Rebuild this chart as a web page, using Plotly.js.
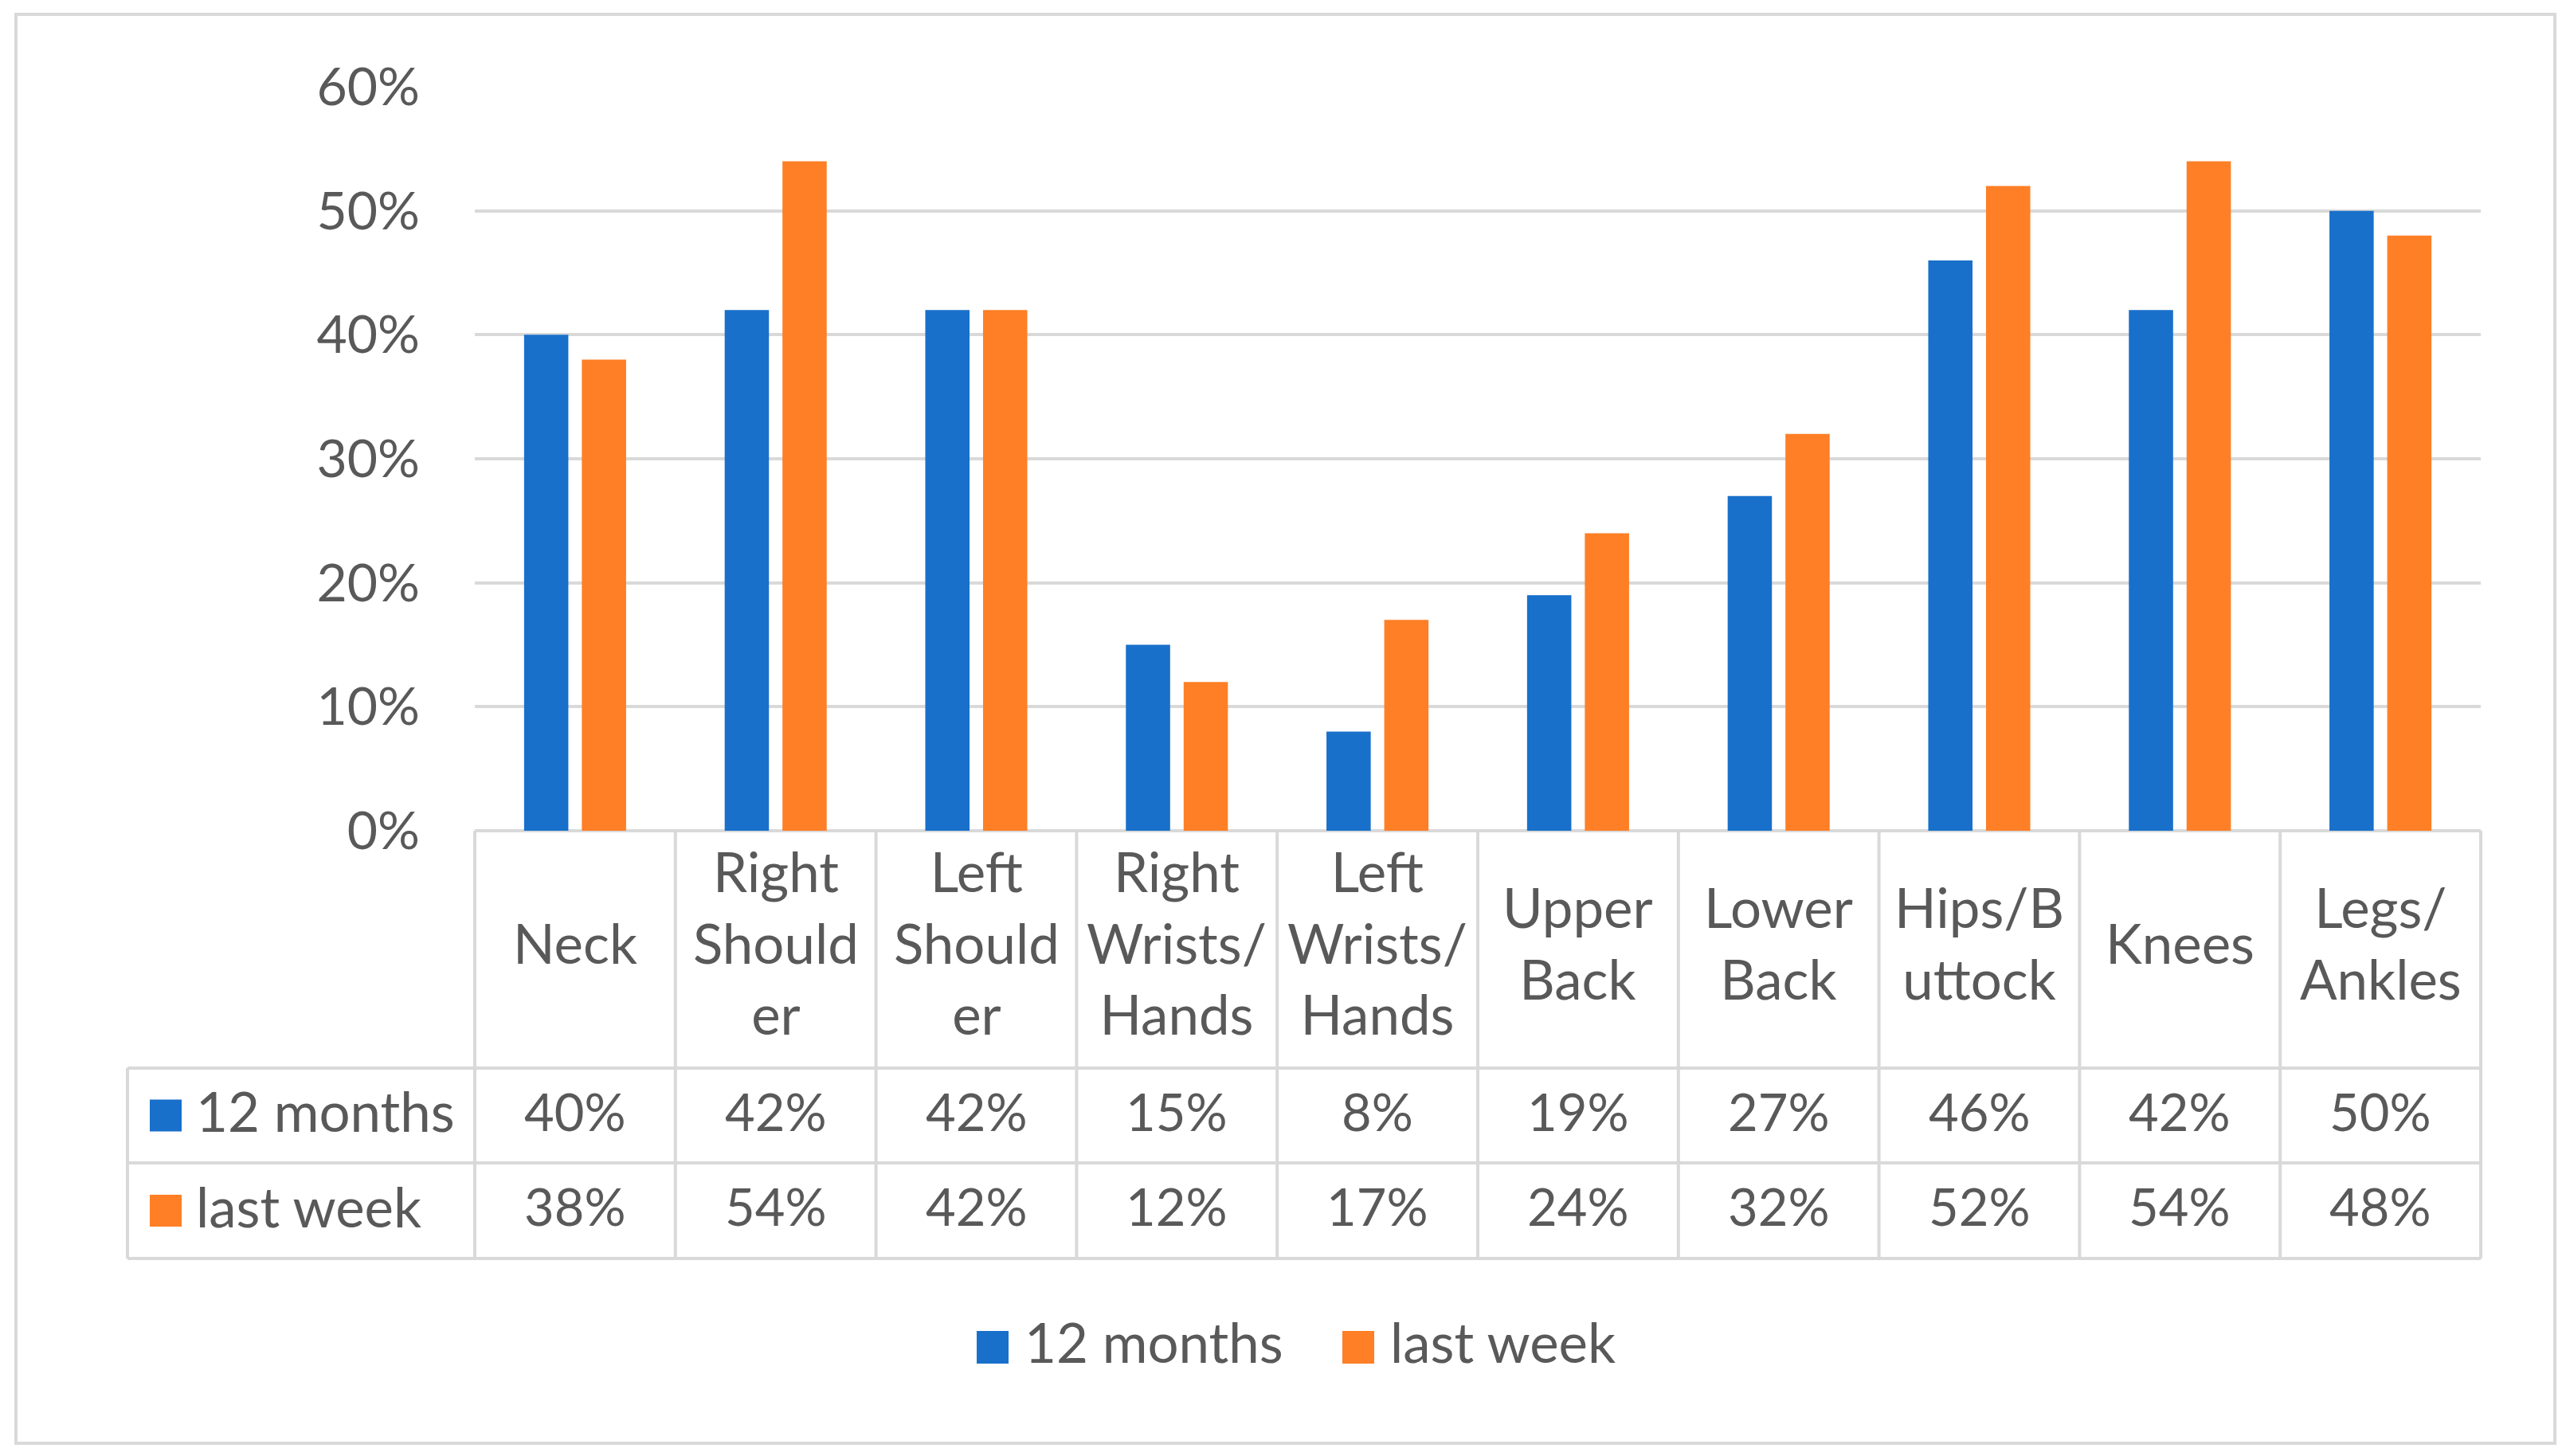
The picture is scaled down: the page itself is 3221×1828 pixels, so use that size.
<!DOCTYPE html>
<html>
<head>
<meta charset="utf-8">
<script src="https://cdn.plot.ly/plotly-3.0.1.min.js"></script>
<style>
html,body{margin:0;padding:0;background:#fff;}
#chart{width:3221px;height:1828px;}
</style>
</head>
<body>
<div id="chart"></div>
<script>
// ---- data ----
var categories = ["Neck","Right Shoulder","Left Shoulder","Right Wrists/Hands","Left Wrists/Hands","Upper Back","Lower Back","Hips/Buttock","Knees","Legs/Ankles"];
var categoryLabels = ["Neck","Right<br>Should<br>er","Left<br>Should<br>er","Right<br>Wrists/<br>Hands","Left<br>Wrists/<br>Hands","Upper<br>Back","Lower<br>Back","Hips/B<br>uttock","Knees","Legs/<br>Ankles"];
var seriesNames = ["12 months","last week"];
var months12 = [40,42,42,15,8,19,27,46,42,50];
var lastWeek = [38,54,42,12,17,24,32,52,54,48];
var yTicks = [0,10,20,30,40,50,60];

// ---- style ----
var W = 3221, H = 1828;
var L = 596, R = 3114, T = 109, B = 1043;
var colors = ["#1870CA","#FE7F26"];
var textColor = "#595959";
var lineColor = "#D9D9D9";
var FONT = "Lato, 'Open Sans', sans-serif";
var FS = 65;     // numbers
var FSW = 69;    // words

function X(px){ return (px - L) / (R - L); }
function Y(py){ return (B - py) / (B - T); }

var seriesData = [months12, lastWeek];
var traces = seriesData.map(function(vals, i){
  return {
    type: "bar", x: categories, y: vals, name: seriesNames[i],
    marker: {color: colors[i]}, showlegend: false, hoverinfo: "x+y+name"
  };
});

var shapes = [];
var annotations = [];
var n = categories.length;
var colW = (R - L) / n;
var rowTop = B, row0 = 1341, row1 = 1460, row2 = 1580, tableLeft = 160;
function hline(x0, x1, y){ shapes.push({type:"line", xref:"paper", yref:"paper", x0:X(x0), x1:X(x1), y0:Y(y), y1:Y(y), line:{color:lineColor, width:4}, layer:"below"}); }
function vline(x, y0, y1){ shapes.push({type:"line", xref:"paper", yref:"paper", x0:X(x), x1:X(x), y0:Y(y0), y1:Y(y1), line:{color:lineColor, width:4}, layer:"below"}); }

// outer frame
shapes.push({type:"rect", xref:"paper", yref:"paper", x0:X(20), x1:X(3207), y0:Y(18), y1:Y(1812), line:{color:lineColor, width:4}, fillcolor:"rgba(0,0,0,0)", layer:"below"});

// table grid
hline(L, R, rowTop);
hline(tableLeft, R, row0);
hline(tableLeft, R, row1);
hline(tableLeft, R, row2);
for (var k = 0; k <= n; k++) vline(L + k * colW, rowTop, row2);
vline(tableLeft, row0, row2);

// category labels
for (var c = 0; c < n; c++) {
  annotations.push({xref:"x", yref:"paper", x:categories[c], y:Y((rowTop + row0) / 2 - 9), text:categoryLabels[c], showarrow:false, xanchor:"center", yanchor:"middle", align:"center", font:{family:FONT, size:FSW, color:textColor}});
}
// value rows
var rowMids = [(row0 + row1) / 2, (row1 + row2) / 2];
seriesData.forEach(function(vals, s){
  for (var c = 0; c < n; c++) {
    annotations.push({xref:"x", yref:"paper", x:categories[c], y:Y(rowMids[s] - 6), text:vals[c] + "%", showarrow:false, xanchor:"center", yanchor:"middle", font:{family:FONT, size:FS, color:textColor}});
  }
  // row label
  shapes.push({type:"rect", xref:"paper", yref:"paper", x0:X(188), x1:X(228), y0:Y(rowMids[s] - 20), y1:Y(rowMids[s] + 20), fillcolor:colors[s], line:{width:0}});
  annotations.push({xref:"paper", yref:"paper", x:X(244), y:Y(rowMids[s] - 6), text:seriesNames[s], showarrow:false, xanchor:"left", yanchor:"middle", font:{family:FONT, size:FSW, color:textColor}});
});

// legend
var legX = [1226, 1685];
legX.forEach(function(lx, s){
  shapes.push({type:"rect", xref:"paper", yref:"paper", x0:X(lx), x1:X(lx + 40), y0:Y(1671), y1:Y(1712), fillcolor:colors[s], line:{width:0}});
  annotations.push({xref:"paper", yref:"paper", x:X(lx + 58), y:Y(1684), text:seriesNames[s], showarrow:false, xanchor:"left", yanchor:"middle", font:{family:FONT, size:FSW, color:textColor}});
});

var layout = {
  width: W, height: H,
  margin: {l: L, r: W - R, t: T, b: H - B, pad: 0},
  paper_bgcolor: "#ffffff", plot_bgcolor: "#ffffff",
  font: {family: FONT, size: FS, color: textColor},
  barmode: "group", bargap: 0.424, bargroupgap: 0.234,
  showlegend: false,
  xaxis: {type: "category", showticklabels: false, ticks: "", showgrid: false, zeroline: false, showline: false, fixedrange: true},
  yaxis: {range: [0, 60], tickvals: yTicks, ticktext: yTicks.map(function(v){ return v + "%"; }), showgrid: true, gridcolor: lineColor, gridwidth: 4, zeroline: false, showline: false, ticks: "", ticklabelstandoff: 68, tickfont: {family: FONT, size: 66, color: textColor}, fixedrange: true},
  shapes: shapes,
  annotations: annotations
};

Plotly.newPlot("chart", traces, layout, {staticPlot: true, displayModeBar: false});
</script>
</body>
</html>
